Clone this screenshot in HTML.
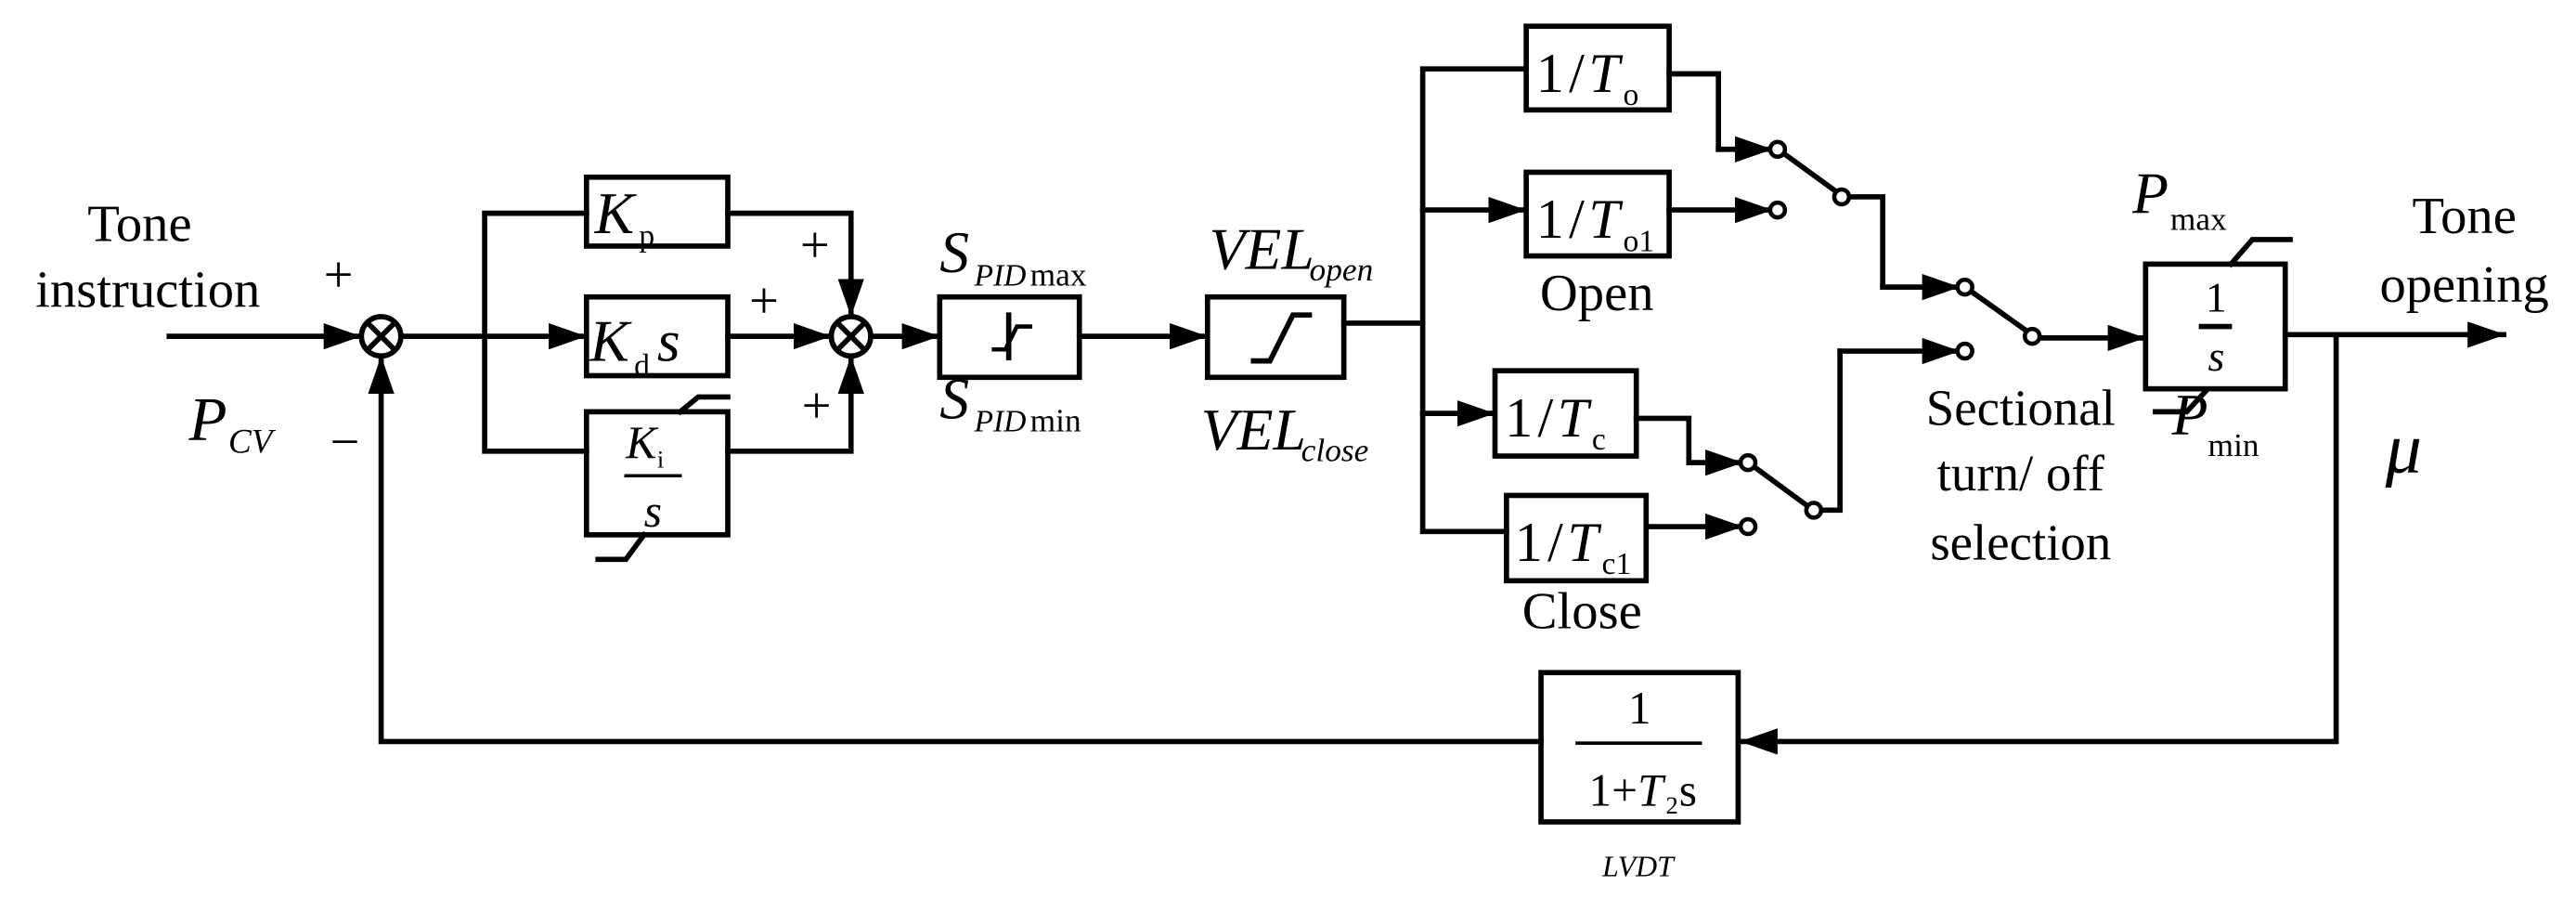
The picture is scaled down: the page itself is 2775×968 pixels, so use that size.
<!DOCTYPE html>
<html><head><meta charset="utf-8"><style>
html,body{margin:0;padding:0;background:#fff;}
svg{display:block;}
text{font-family:"Liberation Serif",serif;fill:#000;}
.i{font-style:italic;}
</style></head><body>
<svg width="2775" height="968" viewBox="0 0 1568 548" preserveAspectRatio="none" xmlns="http://www.w3.org/2000/svg">
<defs>
<marker id="a" markerUnits="userSpaceOnUse" markerWidth="24" markerHeight="18" refX="22" refY="8" orient="auto">
<path d="M0,0 L23,8 L0,16 Z" fill="#000"/>
</marker>
</defs>
<g stroke="#000" stroke-width="3.2" fill="none" stroke-linecap="square">
<line x1="103" y1="205" x2="219" y2="205" marker-end="url(#a)"/>
<circle cx="232" cy="205" r="12" fill="#fff"/>
<line x1="224" y1="197" x2="240" y2="213"/><line x1="240" y1="197" x2="224" y2="213"/>
<line x1="244" y1="205" x2="295" y2="205"/>
<polyline points="357,130 295,130 295,275 357,275"/>
<line x1="295" y1="205" x2="356" y2="205" marker-end="url(#a)"/>
<rect x="357" y="108" width="86" height="42"/>
<rect x="357" y="181" width="86" height="48"/>
<rect x="357" y="251" width="86" height="75"/>
<polyline points="414,251 425,242 443,242"/>
<polyline points="364,341 381,341 392,326"/>
<polyline points="443,130 518,130 518,192" marker-end="url(#a)"/>
<line x1="443" y1="205" x2="505" y2="205" marker-end="url(#a)"/>
<polyline points="443,275 518,275 518,218" marker-end="url(#a)"/>
<circle cx="518" cy="205" r="12" fill="#fff"/>
<line x1="510" y1="197" x2="526" y2="213"/><line x1="526" y1="197" x2="510" y2="213"/>
<line x1="530" y1="205" x2="571" y2="205" marker-end="url(#a)"/>
<rect x="572" y="181" width="85" height="49"/>
<line x1="614" y1="192" x2="614" y2="218"/>
<polyline points="605,213 612,213 619,199 627,199" stroke-width="2.6"/>
<line x1="657" y1="205" x2="734" y2="205" marker-end="url(#a)"/>
<rect x="735" y="181" width="83" height="49"/>
<polyline points="763,220 773,220 787,192 797,192"/>
<polyline points="818,197 866,197"/>
<polyline points="928,42 866,42 866,324 917,324"/>
<line x1="866" y1="128" x2="928" y2="128" marker-end="url(#a)"/>
<line x1="866" y1="252" x2="909" y2="252" marker-end="url(#a)"/>
<rect x="929" y="16" width="87" height="51"/>
<rect x="929" y="105" width="87" height="51"/>
<rect x="910" y="226" width="86" height="52"/>
<rect x="917" y="302" width="85" height="52"/>
<!-- open switch -->
<polyline points="1016,45 1046,45 1046,91"/>
<line x1="1046" y1="91" x2="1078" y2="91" marker-end="url(#a)"/>
<line x1="1016" y1="128" x2="1078" y2="128" marker-end="url(#a)"/>
<line x1="1085" y1="93" x2="1118" y2="117"/>
<polyline points="1124,120 1146,120 1146,175"/>
<line x1="1146" y1="175" x2="1192" y2="175" marker-end="url(#a)"/>
<!-- close switch -->
<polyline points="996,255 1028,255 1028,282"/>
<line x1="1028" y1="282" x2="1060" y2="282" marker-end="url(#a)"/>
<line x1="1002" y1="321" x2="1060" y2="321" marker-end="url(#a)"/>
<line x1="1067" y1="284" x2="1101" y2="309"/>
<polyline points="1107,311 1120,311 1120,214"/>
<line x1="1120" y1="214" x2="1192" y2="214" marker-end="url(#a)"/>
<!-- final switch -->
<line x1="1199" y1="177" x2="1234" y2="202"/>
<line x1="1241" y1="206" x2="1305" y2="206" marker-end="url(#a)"/>
<rect x="1306" y="161" width="85" height="76"/>
<polyline points="1358,161 1371,146 1394,146"/>
<polyline points="1312,251 1331,251 1343,238"/>
<line x1="1340" y1="199" x2="1357" y2="199"/>
<line x1="1391" y1="204" x2="1524" y2="204" marker-end="url(#a)"/>
<polyline points="1422,204 1422,452 1060,452" marker-end="url(#a)"/>
<rect x="938" y="410" width="120" height="91"/>
<line x1="960" y1="453" x2="1035" y2="453" stroke-width="2"/>
<polyline points="938,452 232,452 232,218" marker-end="url(#a)"/>
</g>
<g fill="#fff" stroke="#000" stroke-width="2.6">
<circle cx="1082" cy="91" r="4.5"/><circle cx="1082" cy="128" r="4.5"/><circle cx="1121" cy="120" r="4.5"/>
<circle cx="1064" cy="282" r="4.5"/><circle cx="1064" cy="321" r="4.5"/><circle cx="1104" cy="311" r="4.5"/>
<circle cx="1196" cy="175" r="4.5"/><circle cx="1196" cy="214" r="4.5"/><circle cx="1237" cy="205" r="4.5"/>
</g>
<text x="85" y="147" font-size="32" text-anchor="middle">Tone</text>
<text x="90" y="187" font-size="32" text-anchor="middle">instruction</text>
<text x="206" y="178" font-size="32" text-anchor="middle">+</text>
<text x="210" y="280" font-size="32" text-anchor="middle">−</text>
<text x="115" y="268" font-size="38" class="i">P</text><text x="139" y="276" font-size="21" class="i">CV</text>
<text x="362" y="142" font-size="36" class="i">K</text><text x="389" y="150" font-size="19">p</text>
<text x="359" y="220" font-size="36" class="i">K</text><text x="386" y="229" font-size="19">d</text><text x="400" y="220" font-size="36" class="i">s</text>
<text x="381" y="279" font-size="28" class="i">K</text><text x="400" y="285" font-size="15">i</text>
<line x1="380" y1="290" x2="415" y2="290" stroke="#000" stroke-width="2"/>
<text x="392" y="321" font-size="28" class="i">s</text>
<text x="496" y="160" font-size="32" text-anchor="middle">+</text>
<text x="465" y="194" font-size="32" text-anchor="middle">+</text>
<text x="497" y="258" font-size="32" text-anchor="middle">+</text>
<text x="572" y="166" font-size="36" class="i">S</text><text x="593" y="174" font-size="19" class="i">PID</text><text x="627" y="174" font-size="20">max</text>
<text x="572" y="255" font-size="36" class="i">S</text><text x="593" y="263" font-size="19" class="i">PID</text><text x="627" y="263" font-size="20">min</text>
<text x="736" y="164" font-size="36" class="i">VEL</text><text x="797" y="171" font-size="20" class="i">open</text>
<text x="731" y="274" font-size="36" class="i">VEL</text><text x="792" y="281" font-size="20" class="i">close</text>
<g font-size="34">
<text x="935" y="56">1</text><text x="955" y="56">/</text><text x="967" y="56" class="i">T</text>
<text x="935" y="145">1</text><text x="955" y="145">/</text><text x="967" y="145" class="i">T</text>
<text x="916" y="266">1</text><text x="936" y="266">/</text><text x="948" y="266" class="i">T</text>
<text x="922" y="342">1</text><text x="942" y="342">/</text><text x="954" y="342" class="i">T</text>
</g>
<g font-size="19">
<text x="988" y="64">o</text><text x="988" y="153">o1</text>
<text x="969" y="274">c</text><text x="975" y="350">c1</text>
</g>
<text x="972" y="189" font-size="32" text-anchor="middle">Open</text>
<text x="963" y="383" font-size="32" text-anchor="middle">Close</text>
<text x="1230" y="259" font-size="31" text-anchor="middle">Sectional</text>
<text x="1230" y="299" font-size="31" text-anchor="middle">turn/ off</text>
<text x="1230" y="341" font-size="31" text-anchor="middle">selection</text>
<text x="1298" y="130" font-size="36" class="i">P</text><text x="1321" y="140" font-size="20">max</text>
<text x="1322" y="265" font-size="36" class="i">P</text><text x="1344" y="278" font-size="20">min</text>
<text x="1349" y="190" font-size="26" text-anchor="middle">1</text>
<text x="1349" y="226" font-size="26" text-anchor="middle" class="i">s</text>
<text x="1500" y="142" font-size="32" text-anchor="middle">Tone</text>
<text x="1500" y="184" font-size="32" text-anchor="middle">opening</text>
<text x="1452" y="288" font-size="44" class="i">μ</text>
<text x="998" y="441" font-size="28" text-anchor="middle">1</text>
<text x="967" y="491" font-size="28">1+<tspan class="i">T</tspan></text><text x="1014" y="496" font-size="15">2</text><text x="1022" y="491" font-size="28">s</text>
<text x="997" y="534" font-size="18" text-anchor="middle" class="i">LVDT</text>
</svg>
</body></html>
